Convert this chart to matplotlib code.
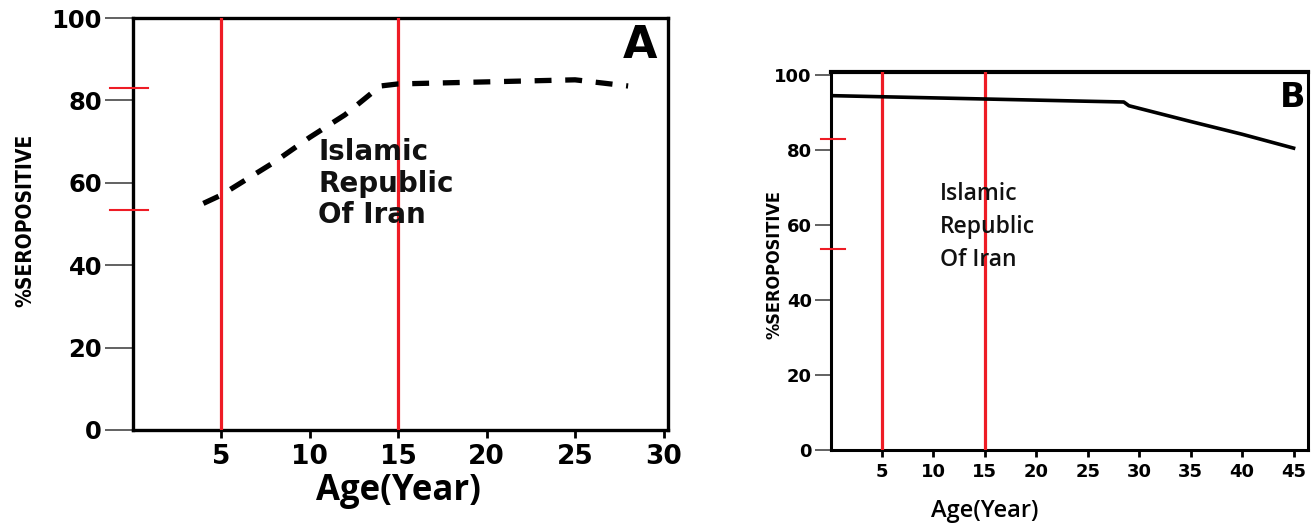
"""Seropositivity by age, Islamic Republic of Iran (panels A and B)."""

import matplotlib

matplotlib.use("Agg")
import matplotlib.pyplot as plt

# panel A: dashed curve
age_a = [4, 5, 8, 10, 12, 14, 15, 20, 25, 28]
sero_a = [55, 57, 65, 71, 76.5, 83.5, 84, 84.5, 85, 83.5]

# panel B: solid curve
age_b = [0, 5, 10, 15, 20, 25, 28.5, 29, 35, 40, 45]
sero_b = [94.5, 94.2, 93.9, 93.6, 93.3, 93.0, 92.8, 91.8, 87.6, 84.2, 80.5]

# shared marks
age_cutoffs = [5, 15]
red_marks = [83, 53.5]
y_ticks = [0, 20, 40, 60, 80, 100]
x_ticks_a = [5, 10, 15, 20, 25, 30]
x_ticks_b = [5, 10, 15, 20, 25, 30, 35, 40, 45]

RED = "#ee1c25"
LABEL = "Islamic\nRepublic\nOf Iran"


def style_axes(ax, spine_w, tick_size, ylen, xlen):
    for side in ["left", "right", "top", "bottom"]:
        ax.spines[side].set_linewidth(spine_w)
        ax.spines[side].set_color("black")
    ax.set_yticks(y_ticks)
    ax.tick_params(axis="y", direction="out", length=ylen, width=1.3, color="#555555", pad=2)
    ax.tick_params(axis="x", direction="out", length=xlen, width=2, color="black", pad=4)
    for lab in ax.get_yticklabels() + ax.get_xticklabels():
        lab.set_fontweight("bold")
        lab.set_fontsize(tick_size)
        lab.set_family("DejaVu Sans")


def draw_marks(ax, x0, x1):
    for age in age_cutoffs:
        ax.axvline(age, color=RED, lw=2.3, zorder=3)
    for val in red_marks:
        ax.plot([x0, x1], [val, val], color=RED, lw=1.5, clip_on=False, zorder=4)


fig = plt.figure(figsize=(13.11, 5.24), dpi=100)

# ---- panel A
ax_a = fig.add_axes([0.1011, 0.1794, 0.4084, 0.7862])
ax_a.set_xlim(0, 30.25)
ax_a.set_ylim(0, 100)
ax_a.set_xticks(x_ticks_a)
style_axes(ax_a, 2.4, 17.5, 20, 6)
for lab in ax_a.get_xticklabels():
    lab.set_fontsize(19)
draw_marks(ax_a, -1.3, 0.9)
ax_a.plot(age_a, sero_a, color="black", lw=3.8, dashes=(3.2, 2.6), zorder=5)
ax_a.text(10.5, 70.8, LABEL, fontsize=20, fontweight="bold", family="DejaVu Sans",
          va="top", ha="left", linespacing=1.15, color="#111111")
ax_a.text(0.98, 0.985, "A", transform=ax_a.transAxes, fontsize=32, fontweight="bold",
          ha="right", va="top")
ax_a.set_xlabel("Age(Year)", fontsize=25, fontweight="bold", family="Open Sans")
ax_a.xaxis.set_label_coords(0.496, -0.105)
ax_a.set_ylabel("%SEROPOSITIVE", fontsize=15, fontweight="bold", family="DejaVu Sans",
                fontstretch="condensed")
ax_a.yaxis.set_label_coords(-0.182, 0.51)

# ---- panel B
ax_b = fig.add_axes([0.6335, 0.1412, 0.3642, 0.7214])
ax_b.set_xlim(0, 46.4)
ax_b.set_ylim(0, 100.8)
ax_b.set_xticks(x_ticks_b)
style_axes(ax_b, 2.2, 13, 11.5, 5)
ax_b.spines["top"].set_linewidth(3)
draw_marks(ax_b, -0.9, 1.4)
ax_b.plot(age_b, sero_b, color="black", lw=2.6, zorder=5)
ax_b.text(10.6, 71.5, LABEL, fontsize=16.5, fontweight="semibold", family="Open Sans",
          va="top", ha="left", linespacing=1.5, color="#111111")
ax_b.text(0.994, 0.977, "B", transform=ax_b.transAxes, fontsize=24, fontweight="bold",
          ha="right", va="top")
ax_b.set_xlabel("Age(Year)", fontsize=17, fontweight="semibold", family="Open Sans")
ax_b.xaxis.set_label_coords(0.3236, -0.13)
ax_b.set_ylabel("%SEROPOSITIVE", fontsize=13, fontweight="bold", family="DejaVu Sans",
                fontstretch="condensed")
ax_b.yaxis.set_label_coords(-0.0995, 0.49)

fig.savefig("out.png", dpi=100)
